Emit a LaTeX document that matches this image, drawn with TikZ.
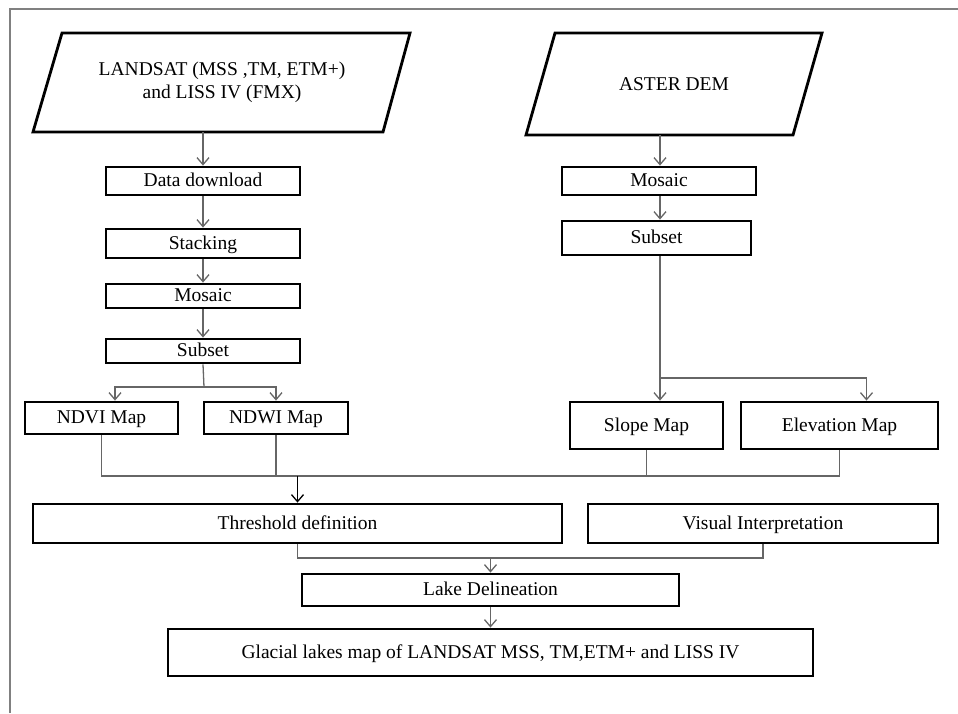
\documentclass[tikz,border=0pt]{standalone}
\usepackage{fontspec}
\setmainfont{Liberation Serif}
\usetikzlibrary{arrows.meta}
\tikzset{
  box/.style={draw=black, line width=2.8pt, inner sep=0pt, font=\fontsize{19.5}{23}\selectfont, align=center, text height=15pt, text depth=4pt},
  plain/.style={inner sep=0pt, font=\fontsize{19.5}{23}\selectfont, align=center},
  para/.style={draw=black, line width=2.8pt, line join=miter},
  conn/.style={draw=black!60, line width=1.3pt},
  arr/.style={conn, -{Straight Barb[length=7pt,width=12pt,line width=1.3pt]}},
  frame/.style={draw=black!50, line width=2pt}
}
\begin{document}
\begin{tikzpicture}[x=1pt,y=-1pt]
\useasboundingbox (0,0) rectangle (958,713);
\draw[frame] (10,713) -- (10,9) -- (958,9);

% input parallelograms
\draw[para] (62,33) -- (410,33) -- (383,132) -- (33,132) -- cycle;
\node[plain, minimum width=320pt, minimum height=99pt] (land) at (222,82.5) {LANDSAT (MSS ,TM, ETM+)\\and LISS IV (FMX)};
\draw[para] (555,33) -- (822,33) -- (793,135) -- (526,135) -- cycle;
\node[plain, minimum width=240pt, minimum height=102pt] (aster) at (674,84) {ASTER DEM};

% left column
\node[box, minimum width=194pt, minimum height=28pt] (dl) at (203,181) {Data download};
\node[box, minimum width=194pt, minimum height=29pt] (stack) at (203,243.5) {Stacking};
\node[box, minimum width=194pt, minimum height=24pt] (mos1) at (203,296) {Mosaic};
\node[box, minimum width=194pt, minimum height=24pt] (sub1) at (203,351) {Subset};
\node[box, minimum width=153pt, minimum height=32pt] (ndvi) at (101.5,418) {NDVI Map};
\node[box, minimum width=144pt, minimum height=32pt] (ndwi) at (276,418) {NDWI Map};

% right column
\node[box, minimum width=194pt, minimum height=28pt] (mos2) at (659,181) {Mosaic};
\node[box, minimum width=189pt, minimum height=34pt] (sub2) at (656.5,238) {Subset};
\node[box, minimum width=153pt, minimum height=47pt] (slope) at (646.5,425.5) {Slope Map};
\node[box, minimum width=197pt, minimum height=47pt] (elev) at (839.5,425.5) {Elevation Map};

% lower part
\node[box, minimum width=529pt, minimum height=39pt] (thr) at (297.5,523.5) {Threshold definition};
\node[box, minimum width=350pt, minimum height=39pt] (vis) at (763,523.5) {Visual Interpretation};
\node[box, minimum width=377pt, minimum height=32pt] (lake) at (490.5,590) {Lake Delineation};
\node[box, minimum width=645pt, minimum height=47pt] (glac) at (490.5,652.5) {Glacial lakes map of LANDSAT MSS, TM,ETM+ and LISS IV};

% junction points
\coordinate (j1) at (204,387);
\coordinate (j2) at (660,378);
\coordinate (jt) at (297.5,476);
\coordinate (jb) at (490.5,558);

% left column connectors
\draw[arr] (land.south -| dl.north) -- (dl.north);
\draw[arr] (dl) -- (stack);
\draw[arr] (stack) -- (mos1);
\draw[arr] (mos1) -- (sub1);
\draw[conn] (sub1.south) -- (j1);
\draw[arr] (j1) -| ([xshift=13.5pt]ndvi.north);
\draw[arr] (j1) -| (ndwi.north);

% right column connectors
\draw[arr] (aster.south -| j2) -- (j2 |- mos2.north);
\draw[arr] (mos2.south -| j2) -- (j2 |- sub2.north);
\draw[conn] (sub2.south -| j2) -- (j2);
\draw[arr] (j2) -- (j2 |- slope.north);
\draw[arr] (j2) -| ([xshift=27pt]elev.north);

% merge into threshold
\draw[conn] (ndvi.south) |- (jt);
\draw[conn] (ndwi.south) |- (jt);
\draw[conn] (slope.south) |- (jt);
\draw[conn] (elev.south) |- (jt);
\draw[arr, draw=black, line width=1.6pt] (jt) -- (thr.north);

% merge into lake delineation
\draw[conn] (thr.south) |- (jb);
\draw[conn] (vis.south) |- (jb);
\draw[arr] (jb) -- (lake.north);
\draw[arr] (lake) -- (glac);
\end{tikzpicture}
\end{document}
